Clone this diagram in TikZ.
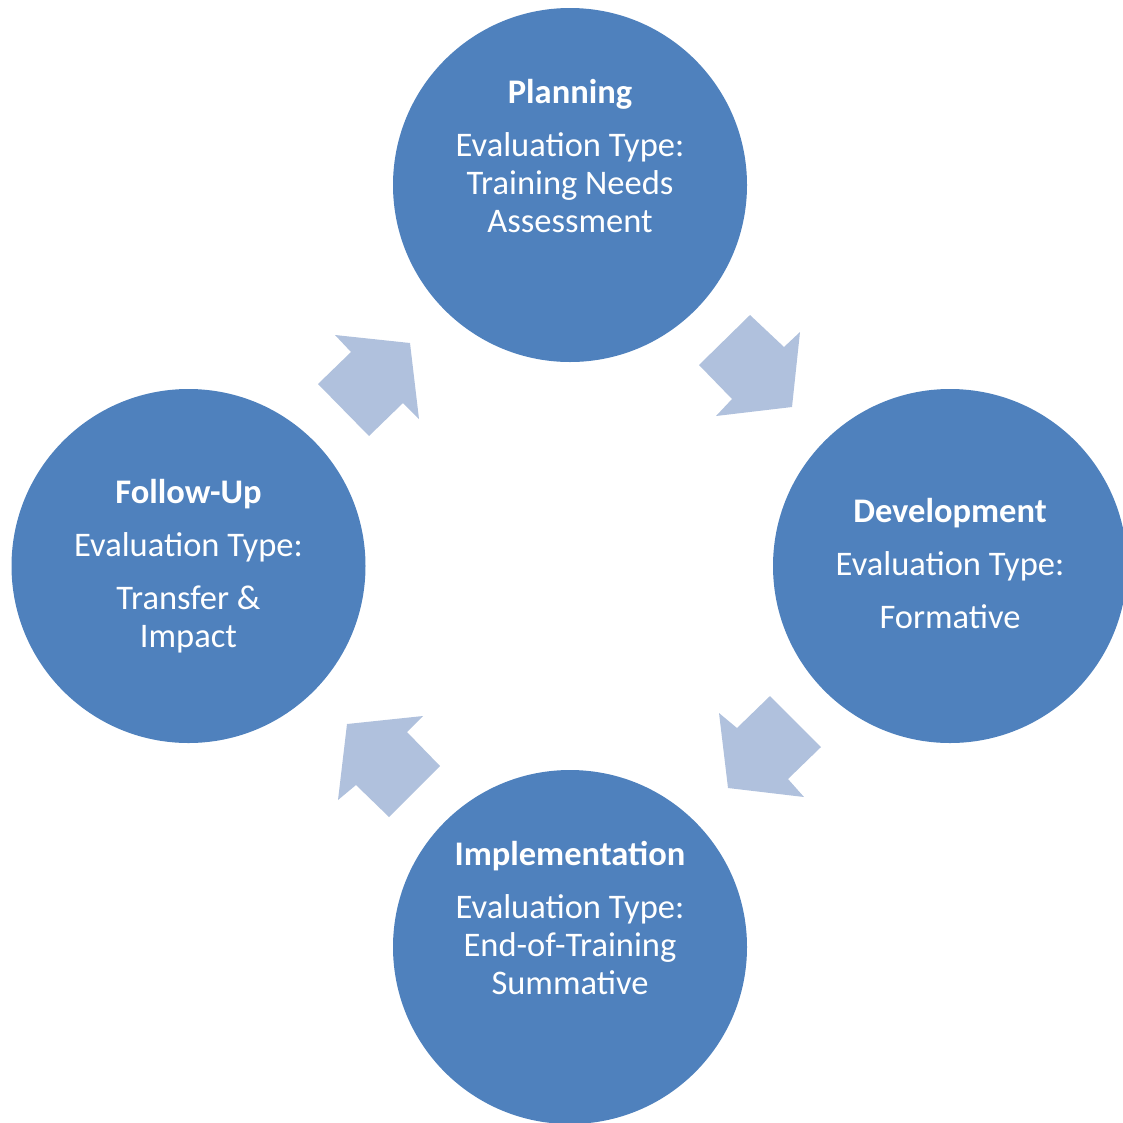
\documentclass[tikz,border=0pt]{standalone}
\usepackage{fontspec}
\setmainfont{Carlito}
\definecolor{circblue}{HTML}{4F81BD}
\definecolor{arrblue}{HTML}{B0C1DD}
\begin{document}
\begin{tikzpicture}[x=1pt,y=-1pt,
  stage/.style={circle,fill=circblue,minimum size=354pt,inner sep=0pt},
  ttl/.style={text=white,font=\fontsize{34.5}{40}\selectfont\bfseries,anchor=center,inner sep=0pt,text height=24pt,text depth=7pt},
  txt/.style={text=white,font=\fontsize{34.5}{40}\selectfont,anchor=center,inner sep=0pt,text height=24pt,text depth=7pt},
  arr/.style={fill=arrblue,draw=none}]
\useasboundingbox (0,0) rectangle (1123,1122);
\begin{scope}
\clip (0,0) rectangle (1123,1122);
\node[stage] (plan) at (570,185) {};
\node[stage] (dev) at (950,566) {};
\node[stage] (impl) at (570,947) {};
\node[stage] (fol) at (188.5,566) {};
\end{scope}
% arrows
\fill[arr] (750,315) -- (784,347) -- (800,332) -- (792,407) -- (716,416) -- (732,399) -- (699,365) -- cycle;
\fill[arr] (770,696) -- (821,747) -- (788,779) -- (804,797) -- (728,788) -- (719,713) -- (737,728) -- cycle;
\fill[arr] (423,716) -- (407,732) -- (440,766) -- (389,817) -- (356,785) -- (338,800) -- (347,724) -- cycle;
\fill[arr] (335,335) -- (410,343) -- (419,419) -- (403,403) -- (369,436) -- (318,384) -- (351,352) -- cycle;
% texts
\node[ttl] (planT) at (570,95) {Planning};
\node[txt] (planA) at (570,148) {Evaluation Type:};
\node[txt] (planB) at (570,186) {Training Needs};
\node[txt] (planC) at (570,224) {Assessment};
\node[ttl] (devT) at (950,514) {Development};
\node[txt] (devA) at (950,567) {Evaluation Type:};
\node[txt] (devB) at (950,620) {Formative};
\node[ttl] (implT) at (570,857) {Implementation};
\node[txt] (implA) at (570,910) {Evaluation Type:};
\node[txt] (implB) at (570,948) {End-of-Training};
\node[txt] (implC) at (570,986) {Summative};
\node[ttl] (folT) at (188.5,495) {Follow-Up};
\node[txt] (folA) at (188.5,548) {Evaluation Type:};
\node[txt] (folB) at (188.5,601) {Transfer \&};
\node[txt] (folC) at (188.5,639) {Impact};
\end{tikzpicture}
\end{document}
